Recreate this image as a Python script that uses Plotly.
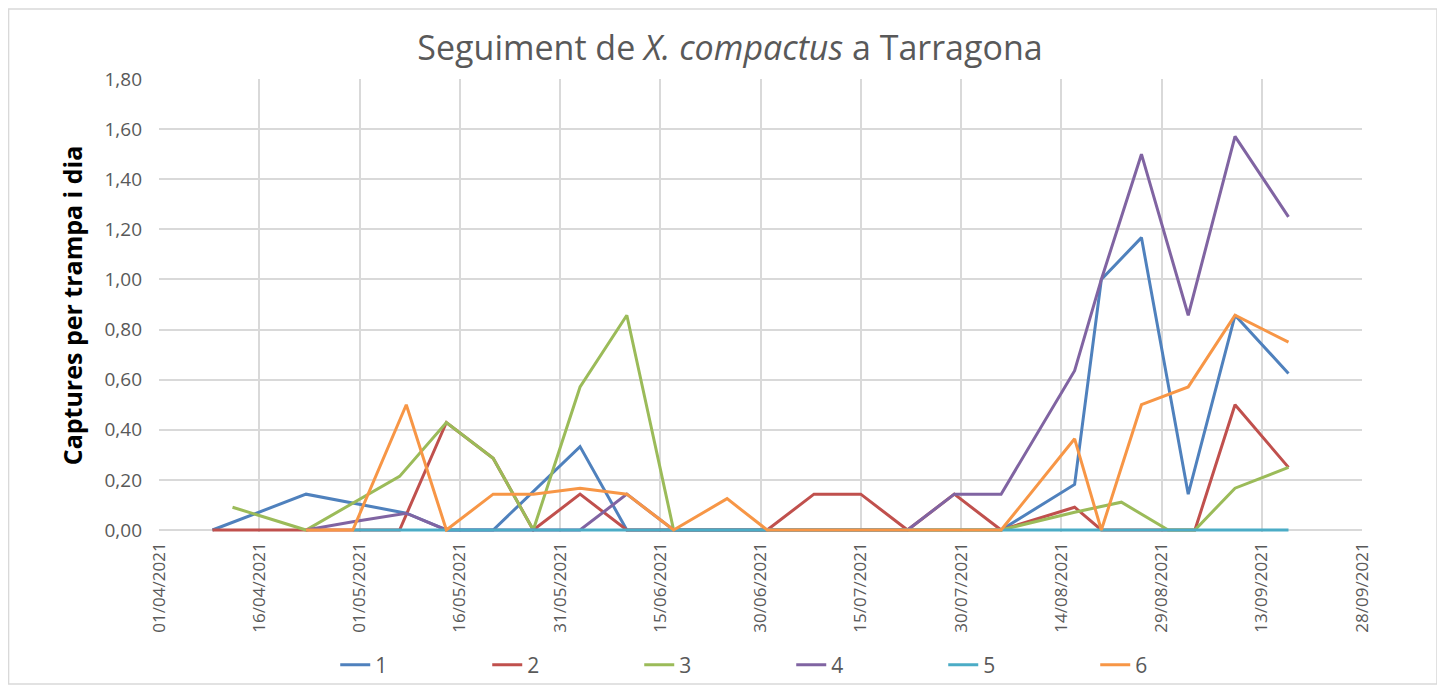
import plotly.graph_objects as go

# ---------------- data ----------------
dates = [
    "2021-04-09", "2021-04-12", "2021-04-23", "2021-04-30", "2021-05-07",
    "2021-05-08", "2021-05-14", "2021-05-21", "2021-05-27", "2021-06-03",
    "2021-06-10", "2021-06-17", "2021-06-25", "2021-07-01", "2021-07-08",
    "2021-07-15", "2021-07-22", "2021-07-29", "2021-08-05", "2021-08-16",
    "2021-08-20", "2021-08-23", "2021-08-26", "2021-08-30", "2021-09-02",
    "2021-09-03", "2021-09-09", "2021-09-17",
]

trap1 = [0, None, 0.143, None, None, 0.067, 0, 0, None, 0.333, 0, 0, 0, 0,
         0, 0, 0, 0, 0, 0.182, 1.0, None, 1.167, None, 0.143, None, 0.857, 0.625]
trap2 = [0, None, 0, 0, 0, None, 0.429, 0.286, 0, 0.143, 0, 0, 0, 0,
         0.143, 0.143, 0, 0.143, 0, 0.091, 0, None, 0, None, None, 0, 0.5, 0.25]
trap3 = [None, 0.091, 0, None, 0.214, None, 0.429, 0.286, 0, 0.571, 0.857, 0, 0, 0,
         0, 0, 0, 0, 0, 0.071, None, 0.111, None, 0, None, 0, 0.167, 0.25]
trap4 = [None, None, 0, 0.033, None, 0.067, 0, 0, 0, 0, 0.143, 0, 0, 0,
         0, 0, 0, 0.143, 0.143, 0.636, 1.0, None, 1.5, None, 0.857, None, 1.571, 1.25]
trap5 = [None, None, None, 0, 0, 0, 0, 0, 0, 0, 0, 0, 0, 0,
         0, 0, 0, 0, 0, 0, 0, None, 0, None, 0, None, 0, 0]
trap6 = [None, None, 0, 0, None, 0.5, 0, 0.143, 0.143, 0.167, 0.143, 0, 0.125, 0,
         0, 0, 0, 0, 0, 0.364, 0, None, 0.5, None, 0.571, None, 0.857, 0.75]

series_names = ["1", "2", "3", "4", "5", "6"]
series_values = [trap1, trap2, trap3, trap4, trap5, trap6]

y_ticks = [0, 0.2, 0.4, 0.6, 0.8, 1.0, 1.2, 1.4, 1.6, 1.8]

# ---------------- styles ----------------
colors = ["#4F81BD", "#C0504D", "#9BBB59", "#8064A2", "#4BACC6", "#F79646"]
FONT = "Open Sans"
GRAY = "#595959"
GRID = "#D9D9D9"

fig = go.Figure()
for name, vals, col in zip(series_names, series_values, colors):
    fig.add_trace(go.Scatter(
        x=dates, y=vals, name=name, mode="lines",
        line=dict(color=col, width=3),
        connectgaps=True,
    ))

# page body has an 8px margin; work in screen pixels and convert
OFF = 8
Y_TOP_S, Y_ZERO_S = 79, 530          # screen pixel rows of 1,80 and 0,00
PAD = 2                              # extra room below 0 so the zero lines are not clipped
y_per_px = 1.8 / (Y_ZERO_S - Y_TOP_S)
W, H = 1445 - OFF, 691 - OFF
L, T = 158.5 - OFF, Y_TOP_S - OFF
R = W - (1362 - OFF)
B = H - (Y_ZERO_S + PAD - OFF)
pw, ph = W - L - R, H - T - B


def px_x(sx):
    return (sx - OFF - L) / pw


def px_y(sy):
    return (H - B - (sy - OFF)) / ph


fig.update_layout(
    width=W, height=H,
    margin=dict(l=L, r=R, t=T, b=B, autoexpand=False),
    paper_bgcolor="white", plot_bgcolor="white",
    separators=",.",
    font=dict(family=FONT, color=GRAY, size=18),
    title=dict(
        text="Seguiment de <i>X. compactus</i> a Tarragona",
        font=dict(family=FONT, size=34, color=GRAY),
        x=(730 - OFF) / W, xanchor="center",
        y=1 - (48 - OFF) / H, yanchor="middle",
    ),
    xaxis=dict(
        type="date",
        range=["2021-04-01", "2021-09-28"],
        tick0="2021-04-01",
        dtick=15 * 86400000,
        tickformat="%d/%m/%Y",
        tickangle=-90,
        tickfont=dict(family=FONT, size=17, color=GRAY),
        showgrid=True, gridcolor=GRID, gridwidth=1.5,
        showline=False,
        zeroline=False,
        ticks="", ticklabelstandoff=6,
    ),
    yaxis=dict(
        range=[-PAD * y_per_px, 1.8],
        tickvals=y_ticks,
        tickformat=".2f",
        tickfont=dict(family=FONT, size=19, color=GRAY),
        showgrid=True, gridcolor=GRID, gridwidth=1.5,
        zeroline=False,
        ticks="", ticklabelstandoff=16,
        title=dict(
            text="<b>Captures per trampa i dia</b>",
            font=dict(family=FONT, size=25, color="black"),
            standoff=14,
        ),
    ),
    legend=dict(
        orientation="h",
        x=px_x(791), xanchor="center",
        y=px_y(665), yanchor="middle",
        font=dict(family=FONT, size=21, color=GRAY),
        entrywidth=107, entrywidthmode="pixels",
        bgcolor="rgba(0,0,0,0)",
    ),
    showlegend=True,
    shapes=[dict(
        type="rect", xref="paper", yref="paper",
        x0=px_x(8), x1=px_x(1437), y0=px_y(684), y1=px_y(9),
        line=dict(color=GRID, width=1.5), fillcolor="rgba(0,0,0,0)",
        layer="below",
    )],
)

fig.write_html("out.html")
